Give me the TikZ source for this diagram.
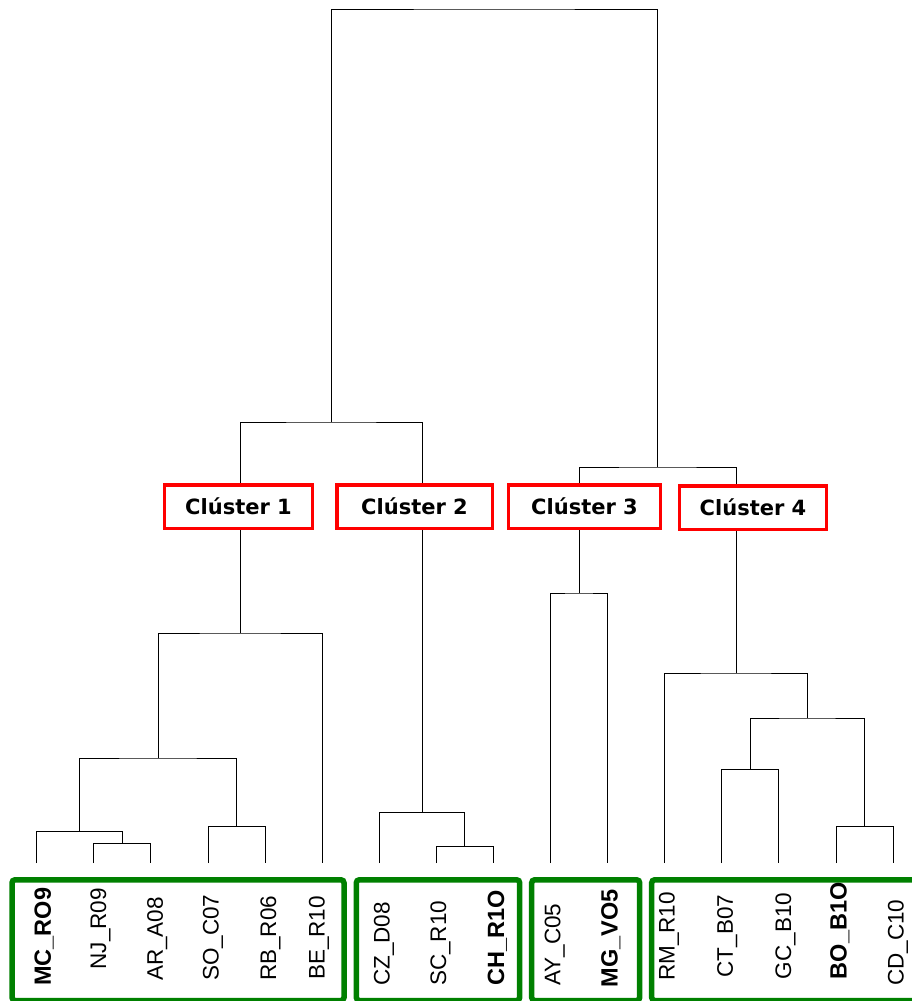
\documentclass[tikz,border=0pt]{standalone}
\usepackage{fontspec}
\setmainfont{Liberation Sans}
\newfontfamily\clusterfont{DejaVu Sans}
\usepackage{xcolor}
\definecolor{clusterred}{HTML}{FF0000}
\definecolor{groupgreen}{HTML}{008000}
\usepackage{tikz}
\usetikzlibrary{positioning}

\begin{document}
\begin{tikzpicture}[x=1pt, y=-1pt,
    link/.style={line width=1pt, black},
    leaf/.style={rotate=90, anchor=base west, inner sep=0pt, font=\fontsize{22.5}{24}\selectfont},
    leafbold/.style={leaf, font=\fontsize{23.5}{25}\selectfont\bfseries},
    cluster/.style={draw=clusterred, line width=3.5pt, fill=white, inner sep=0pt,
        minimum height=43.3pt, font=\clusterfont\bfseries\fontsize{21}{23}\selectfont},
    group/.style={draw=groupgreen, line width=5.5pt, rounded corners=3pt}]
    \clip (0,0) rectangle (912,1001);

    % leaf tips
    \coordinate (mc) at (36.7,863);
    \coordinate (nj) at (93.8,863);
    \coordinate (ar) at (150.9,863);
    \coordinate (so) at (208.0,863);
    \coordinate (rb) at (265.1,863);
    \coordinate (be) at (322.2,863);
    \coordinate (cz) at (379.2,863);
    \coordinate (sc) at (436.3,863);
    \coordinate (ch) at (493.4,863);
    \coordinate (ay) at (550.5,863);
    \coordinate (mg) at (607.6,863);
    \coordinate (rm) at (664.7,863);
    \coordinate (ct) at (721.8,863);
    \coordinate (gc) at (778.9,863);
    \coordinate (bo) at (836.0,863);
    \coordinate (cd) at (893.1,863);

    % merge points
    \coordinate (nj-ar) at (122.3,843);
    \coordinate (mc-ar) at (79.5,831);
    \coordinate (so-rb) at (236.5,826);
    \coordinate (mc-rb) at (158,758);
    \coordinate (mc-be) at (240.1,633);
    \coordinate (sc-ch) at (464.9,846);
    \coordinate (cz-ch) at (422,812);
    \coordinate (mc-ch) at (331,422);
    \coordinate (ay-mg) at (579,593);
    \coordinate (ct-gc) at (750.3,769);
    \coordinate (bo-cd) at (864.5,826);
    \coordinate (ct-cd) at (807.4,718);
    \coordinate (rm-cd) at (736,673);
    \coordinate (ay-cd) at (657.5,467);
    \coordinate (root) at (494,9);

    % dendrogram
    \draw[link] (nj) |- (nj-ar) -| (ar);
    \draw[link] (mc) |- (mc-ar) -| (nj-ar);
    \draw[link] (so) |- (so-rb) -| (rb);
    \draw[link] (mc-ar) |- (mc-rb) -| (so-rb);
    \draw[link] (mc-rb) |- (mc-be) -| (be);
    \draw[link] (sc) |- (sc-ch) -| (ch);
    \draw[link] (cz) |- (cz-ch) -| (sc-ch);
    \draw[link] (mc-be) |- (mc-ch) -| (cz-ch);
    \draw[link] (ay) |- (ay-mg) -| (mg);
    \draw[link] (ct) |- (ct-gc) -| (gc);
    \draw[link] (bo) |- (bo-cd) -| (cd);
    \draw[link] (ct-gc) |- (ct-cd) -| (bo-cd);
    \draw[link] (rm) |- (rm-cd) -| (ct-cd);
    \draw[link] (ay-mg) |- (ay-cd) -| (rm-cd);
    \draw[link] (mc-ch) |- (root) -| (ay-cd);

    % cluster labels
    \node[cluster, minimum width=148pt] (c1) at (238.5,506.7) {Clúster 1};
    \node[cluster, minimum width=155.5pt] (c2) at (414.5,506.7) {Clúster 2};
    \node[cluster, minimum width=152pt] (c3) at (584.5,506.7) {Clúster 3};
    \node[cluster, minimum width=147pt] (c4) at (753,507.7) {Clúster 4};

    % groups of samples
    \draw[group] (12,879.8) rectangle (344,1000.5);
    \draw[group] (356.3,879.8) rectangle (519.7,1000.5);
    \draw[group] (531.7,879.8) rectangle (639.7,1000.5);
    \draw[group] (651.7,879.8) rectangle (930,1000.5);

    % sample names
    \node[leafbold] (lab-mc) at (50.8,986) {MC\_RO9};
    \node[leaf] (lab-nj) at (106.2,969.5) {NJ\_R09};
    \node[leaf] (lab-ar) at (162.9,981) {AR\_A08};
    \node[leaf] (lab-so) at (218.7,981) {SO\_C07};
    \node[leaf] (lab-rb) at (276.2,981) {RB\_R06};
    \node[leaf] (lab-be) at (324.6,980) {BE\_R10};
    \node[leaf] (lab-cz) at (389.6,986) {CZ\_D08};
    \node[leaf] (lab-sc) at (446.2,986) {SC\_R10};
    \node[leafbold] (lab-ch) at (504.1,986) {CH\_R1O};
    \node[leaf] (lab-ay) at (560.4,986) {AY\_C05};
    \node[leafbold] (lab-mg) at (617.5,987.5) {MG\_VO5};
    \node[leaf] (lab-rm) at (674.6,981) {RM\_R10};
    \node[leaf] (lab-ct) at (732.9,977.5) {CT\_B07};
    \node[leaf] (lab-gc) at (791.2,979.3) {GC\_B10};
    \node[leafbold] (lab-bo) at (846.6,979.3) {BO\_B1O};
    \node[leaf] (lab-cd) at (903.7,986) {CD\_C10};
\end{tikzpicture}
\end{document}
